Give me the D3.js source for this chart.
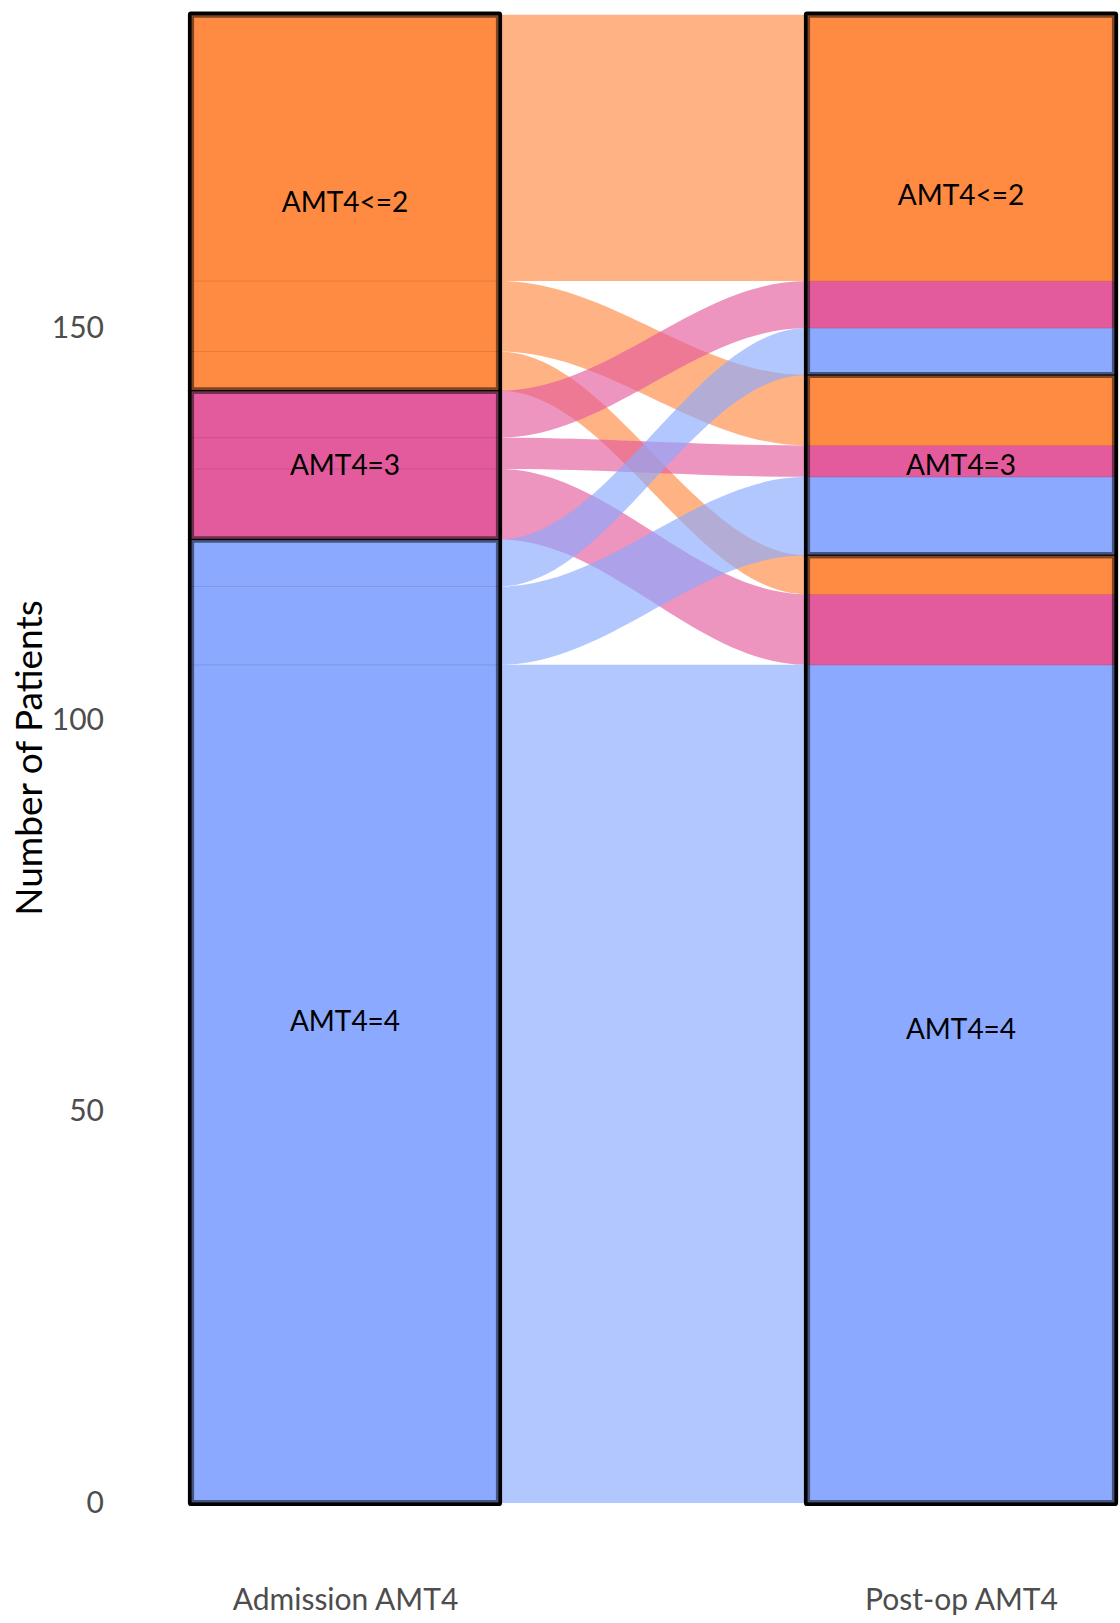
<!DOCTYPE html>
<html>
<head>
<meta charset="utf-8">
<script src="https://cdn.jsdelivr.net/npm/d3@7"></script>
<style>
  body { margin: 0; background: #fff; }
  svg { display: block; font-family: Lato, "Open Sans", sans-serif; }
</style>
</head>
<body>
<script>
// Niveles de abajo hacia arriba
const axesNames = ["Admission AMT4", "Post-op AMT4"];
const levels = ["AMT4=4", "AMT4=3", "AMT4<=2"];
const levelColors = ["#8AA9FF", "#E35B9C", "#FF8A42"];

// Transiciones admision -> post-op
const fromLevel = ["AMT4=4", "AMT4=4", "AMT4=4", "AMT4=3", "AMT4=3", "AMT4=3", "AMT4<=2", "AMT4<=2", "AMT4<=2"];
const toLevel   = ["AMT4=4", "AMT4=3", "AMT4<=2", "AMT4=4", "AMT4=3", "AMT4<=2", "AMT4=4", "AMT4=3", "AMT4<=2"];
const patients  = [107, 10, 6, 9, 4, 6, 5, 9, 34];

const yTicks = [0, 50, 100, 150];

const W = 1120, H = 1623;
const colW = 308;

const svg = d3.select("body").append("svg")
    .attr("width", W)
    .attr("height", H);

const x = d3.scalePoint()
    .domain(axesNames)
    .range([345, 961]);

const y = d3.scaleLinear()
    .domain([0, 150])
    .range([1503, 328]);

const color = d3.scaleOrdinal().domain(levels).range(levelColors);

// Construir flujos y apilar en cada eje
const flows = patients.map((n, i) => ({ from: fromLevel[i], to: toLevel[i], n: n }));

let cum = 0;
levels.forEach(f => levels.forEach(t => {
    const fl = flows.find(d => d.from === f && d.to === t);
    fl.a0 = cum; cum += fl.n; fl.a1 = cum;
}));
cum = 0;
levels.forEach(t => levels.forEach(f => {
    const fl = flows.find(d => d.from === f && d.to === t);
    fl.b0 = cum; cum += fl.n; fl.b1 = cum;
}));

// Estratos
const strata = [];
axesNames.forEach((ax, k) => {
    let c = 0;
    levels.forEach(lv => {
        const total = d3.sum(flows.filter(d => (k === 0 ? d.from : d.to) === lv), d => d.n);
        strata.push({ axis: ax, level: lv, y0: c, y1: c + total });
        c += total;
    });
});

// Lodes (segmentos dentro de cada estrato), coloreados por origen
const lodes = [];
flows.forEach(d => {
    lodes.push({ axis: axesNames[0], level: d.from, origin: d.from, y0: d.a0, y1: d.a1 });
    lodes.push({ axis: axesNames[1], level: d.to, origin: d.from, y0: d.b0, y1: d.b1 });
});

// Flujos
const xl = x(axesNames[0]) + colW / 2;
const xr = x(axesNames[1]) - colW / 2;
const k = 0.36;
const ribbon = d => {
    const c0 = xl + (xr - xl) * k, c1 = xr - (xr - xl) * k;
    return `M${xl},${y(d.a1)} C${c0},${y(d.a1)} ${c1},${y(d.b1)} ${xr},${y(d.b1)}` +
        ` L${xr},${y(d.b0)} C${c1},${y(d.b0)} ${c0},${y(d.a0)} ${xl},${y(d.a0)} Z`;
};

svg.append("g")
    .selectAll("path")
    .data(flows.slice().sort((a, b) => levels.indexOf(b.from) - levels.indexOf(a.from)))
    .join("path")
    .attr("d", ribbon)
    .attr("fill", d => color(d.from))
    .attr("fill-opacity", 0.65);

// Relleno de lodes
svg.append("g")
    .selectAll("rect")
    .data(lodes)
    .join("rect")
    .attr("x", d => x(d.axis) - colW / 2)
    .attr("width", colW)
    .attr("y", d => y(d.y1))
    .attr("height", d => y(d.y0) - y(d.y1))
    .attr("fill", d => color(d.origin))
    .attr("stroke", d => d3.color(color(d.origin)).darker(0.5))
    .attr("stroke-width", 1);

// Contorno negro de estratos
svg.append("g")
    .selectAll("rect")
    .data(strata)
    .join("rect")
    .attr("x", d => x(d.axis) - colW / 2)
    .attr("width", colW)
    .attr("y", d => y(d.y1))
    .attr("height", d => y(d.y0) - y(d.y1))
    .attr("fill", "none")
    .attr("stroke", "#000")
    .attr("stroke-width", 6.2)
    .attr("stroke-linejoin", "round");

// Tinte interior del borde
const inset = 0.6;
svg.append("g")
    .selectAll("rect")
    .data(lodes)
    .join("rect")
    .attr("x", d => x(d.axis) - colW / 2 + inset)
    .attr("width", colW - 2 * inset)
    .attr("y", d => {
        const s = strata.find(t => t.axis === d.axis && t.level === d.level);
        return d.y1 === s.y1 ? y(d.y1) + inset : y(d.y1);
    })
    .attr("height", d => {
        const s = strata.find(t => t.axis === d.axis && t.level === d.level);
        const top = d.y1 === s.y1 ? y(d.y1) + inset : y(d.y1);
        const bot = d.y0 === s.y0 ? y(d.y0) - inset : y(d.y0);
        return bot - top;
    })
    .attr("fill", d => color(d.origin))
    .attr("fill-opacity", 0.5);

// Etiquetas de estratos
svg.append("g")
    .selectAll("text")
    .data(strata)
    .join("text")
    .attr("x", d => x(d.axis))
    .attr("y", d => y((d.y0 + d.y1) / 2))
    .attr("dy", "0.35em")
    .attr("text-anchor", "middle")
    .style("font-size", "28px")
    .style("fill", "#000")
    .text(d => d.level);

// Eje Y
const gy = svg.append("g")
    .attr("transform", "translate(104,0)")
    .call(d3.axisLeft(y).tickValues(yTicks).tickSize(0).tickPadding(0));
gy.select(".domain").remove();
gy.selectAll("text")
    .style("font-family", "Lato, sans-serif")
    .style("font-size", "30px")
    .style("fill", "#4D4D4D");

// Eje X
const gx = svg.append("g")
    .attr("transform", "translate(0,1503)")
    .call(d3.axisBottom(x).tickSize(0).tickPadding(86));
gx.select(".domain").remove();
gx.selectAll("text")
    .style("font-family", "Lato, sans-serif")
    .style("font-size", "30px")
    .style("fill", "#4D4D4D");

// Titulo eje Y
svg.append("text")
    .attr("transform", "translate(42,758) rotate(-90)")
    .attr("text-anchor", "middle")
    .style("font-size", "37px")
    .style("fill", "#000")
    .text("Number of Patients");
</script>
</body>
</html>
